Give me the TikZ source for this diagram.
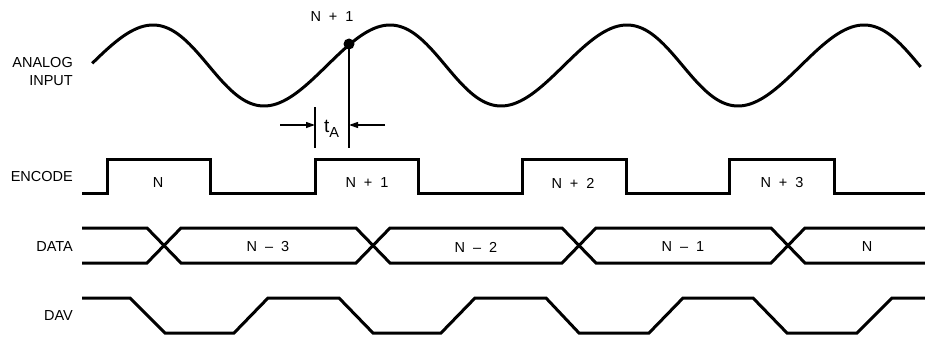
\documentclass[tikz,border=0pt]{standalone}
\usepackage{fontspec}
\setmainfont{Liberation Sans}
\usetikzlibrary{arrows.meta}
\begin{document}
\begin{tikzpicture}[x=1pt,y=-1pt,
  wave/.style={line width=3pt, line join=miter},
  thinline/.style={line width=1.2pt},
  lbl/.style={font=\fontsize{14.5}{16}\selectfont, inner sep=0pt},
  siglbl/.style={lbl, anchor=east},
  arr/.style={thinline, -{Triangle[length=9pt,width=6pt]}}]
\useasboundingbox (0,0) rectangle (925,337);
% signal names
\node[siglbl] (lanalog) at (73,63) {ANALOG};
\node[siglbl] (linput) at (73,81) {INPUT};
\node[siglbl] (lenc) at (73,177) {ENCODE};
\node[siglbl] (ldata) at (73,247) {DATA};
\node[siglbl] (ldav) at (73,316) {DAV};
% analog input
\draw[wave] plot[domain=-87:1172, samples=400, variable=\t]
  ({153+0.65833*\t-3.75*(1-cos(\t))},{65.5-40.5*cos(\t)});
\coordinate (s) at (349,44);
\fill (s) circle (5.5);
\node[lbl] (n1) at (332,17) {N\hspace{.55em}+\hspace{.55em}1};
\coordinate (vb) at (349,148);
\draw[thinline] (s) -- (vb);
\coordinate (ta) at (315,107);
\coordinate (tb) at (315,148);
\draw[thinline] (ta) -- (tb);
\coordinate (al) at (280,125);
\coordinate (alt) at (315,125);
\coordinate (ar) at (385,125);
\coordinate (art) at (349,125);
\draw[arr] (al) -- (alt);
\draw[arr] (ar) -- (art);
\node[lbl, anchor=base west] (tA) at (324,132)
  {{\fontsize{19}{20}\selectfont t}\raisebox{-5pt}{A}};
% encode
\draw[wave] (82,193) -| (107,159) -| (210,193) -| (315,159) -| (418,193)
  -| (522,159) -| (626,193) -| (729,159) -| (834,193) -- (925,193);
\node[lbl] (e0) at (158,183) {N};
\node[lbl] (e1) at (367,183) {N\hspace{.55em}+\hspace{.55em}1};
\node[lbl] (e2) at (573,183) {N\hspace{.55em}+\hspace{.55em}2};
\node[lbl] (e3) at (782,183) {N\hspace{.55em}+\hspace{.55em}3};
% data
\draw[wave] (82,228) -- (147,228) -- (181,263) -- (356,263) -- (390,228)
  -- (562,228) -- (596,263) -- (771,263) -- (805,228) -- (925,228);
\draw[wave] (82,263) -- (147,263) -- (181,228) -- (356,228) -- (390,263)
  -- (562,263) -- (596,228) -- (771,228) -- (805,263) -- (925,263);
\node[lbl] (d3) at (268,247) {N\hspace{.55em}–\hspace{.55em}3};
\node[lbl] (d2) at (476,247) {N\hspace{.55em}–\hspace{.55em}2};
\node[lbl] (d1) at (683,247) {N\hspace{.55em}–\hspace{.55em}1};
\node[lbl] (d0) at (867,247) {N};
% dav
\draw[wave] (82,298) -- (130,298) -- (165,333) -- (234,333) -- (268,298)
  -- (339,298) -- (373,333) -- (441,333) -- (475,298) -- (546,298)
  -- (579,333) -- (649,333) -- (683,298) -- (753,298) -- (787,333)
  -- (857,333) -- (892,298) -- (925,298);
\end{tikzpicture}
\end{document}
